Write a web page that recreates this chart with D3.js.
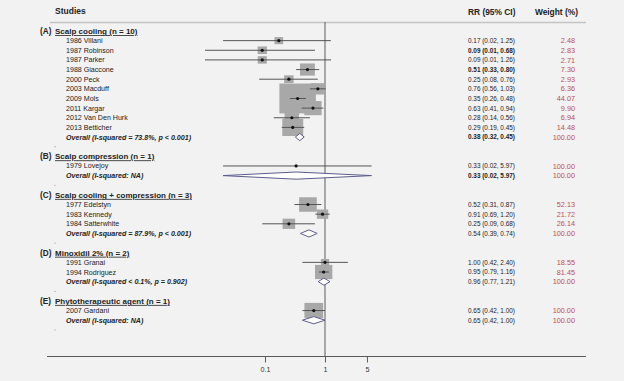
<!DOCTYPE html>
<html>
<head>
<meta charset="utf-8">
<script src="https://cdn.jsdelivr.net/npm/d3@7"></script>
<style>
  html, body { margin: 0; padding: 0; background: #f2f2f2; }
  svg { display: block; font-family: Arial, "Liberation Sans", sans-serif; }
</style>
</head>
<body>
<div id="chart"></div>
<script>
// subgroups
const groupLabels = ["(A)", "(B)", "(C)", "(D)", "(E)"];
const groupTitles = [
  "Scalp cooling (n = 10)",
  "Scalp compression (n = 1)",
  "Scalp cooling + compression (n = 3)",
  "Minoxidil 2% (n = 2)",
  "Phytotherapeutic agent (n = 1)"
];

// studies
const studyNames = [
  "1986 Villani", "1987 Robinson", "1987 Parker", "1988 Giaccone", "2000 Peck",
  "2003 Macduff", "2009 Mols", "2011 Kargar", "2012 Van Den Hurk", "2013 Betticher",
  "1979 Lovejoy",
  "1977 Edelstyn", "1983 Kennedy", "1984 Satterwhite",
  "1991 Granai", "1994 Rodriguez",
  "2007 Gardani"
];
const studyGroup = [0,0,0,0,0,0,0,0,0,0, 1, 2,2,2, 3,3, 4];
const studyRR =  [0.17, 0.09, 0.09, 0.51, 0.25, 0.76, 0.35, 0.63, 0.28, 0.29, 0.33, 0.52, 0.91, 0.25, 1.00, 0.95, 0.65];
const studyLo =  [0.02, 0.01, 0.01, 0.33, 0.08, 0.56, 0.26, 0.41, 0.14, 0.19, 0.02, 0.31, 0.69, 0.09, 0.42, 0.79, 0.42];
const studyHi =  [1.25, 0.68, 1.26, 0.80, 0.76, 1.03, 0.48, 0.94, 0.56, 0.45, 5.97, 0.87, 1.20, 0.68, 2.40, 1.16, 1.00];
const studyWeight = [2.48, 2.83, 2.71, 7.30, 2.93, 6.36, 44.07, 9.90, 6.94, 14.48, 100.00, 52.13, 21.72, 26.14, 18.55, 81.45, 100.00];
// estimated weight in the pooled analysis (drives box area)
const studyBoxWeight = [75, 86, 82, 221, 89, 192, 1333, 299, 210, 438, 0, 313, 130, 157, 69, 301, 350];
const studyBold = [false, true, false, true, false, false, false, false, false, false, false, false, false, false, false, false, false];

// pooled estimates per subgroup
const overallRR = [0.38, 0.33, 0.54, 0.96, 0.65];
const overallLo = [0.32, 0.02, 0.39, 0.77, 0.42];
const overallHi = [0.45, 5.97, 0.74, 1.21, 1.00];
const overallText = [
  "Overall (I-squared = 73.8%, p < 0.001)",
  "Overall (I-squared: NA)",
  "Overall (I-squared = 87.9%, p < 0.001)",
  "Overall (I-squared < 0.1%, p = 0.902)",
  "Overall (I-squared: NA)"
];
const overallBold = [true, true, false, false, false];

// axis
const tickValues = [0.1, 1, 5];

const width = 624, height = 381;
const fmt = d3.format(".2f");

// build rows: header, studies, overall, blank
const rows = [];
groupLabels.forEach((g, gi) => {
  rows.push({type: "header", g: gi});
  studyNames.forEach((n, si) => { if (studyGroup[si] === gi) rows.push({type: "study", i: si}); });
  rows.push({type: "overall", g: gi});
  rows.push({type: "blank", g: gi});
});
rows.forEach((r, i) => r.row = i);

const svg = d3.select("#chart").append("svg")
  .attr("width", width)
  .attr("height", height)
  .attr("viewBox", [0, 0, width, height]);

svg.append("rect").attr("width", width).attr("height", height).attr("fill", "#f2f2f2");

const y = d3.scaleLinear().domain([0, rows.length - 1]).range([31, 31 + (rows.length - 1) * 9.64]);
const x = d3.scaleLog().domain([0.1, 1]).range([265, 325]);
const box = d3.scaleSqrt().domain([0, d3.max(studyBoxWeight)]).range([0, 36.5]);

const axisY = 356.5;
const lineCol = "#5a5a5a";
const textCol = "#222";

// column headers
svg.append("text").attr("x", 55).attr("y", 14).attr("font-size", 8.5).attr("font-weight", "bold")
  .attr("fill", textCol).text("Studies");
svg.append("text").attr("x", 468).attr("y", 15).attr("font-size", 8.4).attr("font-weight", "bold")
  .attr("fill", textCol).text("RR (95% CI)");
svg.append("text").attr("x", 578).attr("y", 15).attr("font-size", 8.4).attr("font-weight", "bold")
  .attr("text-anchor", "end").attr("fill", textCol).text("Weight (%)");

svg.append("line").attr("x1", 50).attr("x2", 586).attr("y1", 22.5).attr("y2", 22.5)
  .attr("stroke", "#c4c4c4").attr("stroke-width", 1.5);

// null line
svg.append("line").attr("x1", x(1)).attr("x2", x(1)).attr("y1", 22).attr("y2", axisY)
  .attr("stroke", lineCol).attr("stroke-width", 1);

// x axis
svg.append("line").attr("x1", 47).attr("x2", 586).attr("y1", axisY).attr("y2", axisY)
  .attr("stroke", lineCol).attr("stroke-width", 1);
const axis = svg.append("g").attr("transform", `translate(0,${axisY})`)
  .call(d3.axisBottom(x).tickValues(tickValues).tickFormat(d => String(d)).tickSize(6).tickPadding(4));
axis.select(".domain").remove();
axis.selectAll(".tick line").attr("stroke", lineCol);
axis.selectAll(".tick text").attr("font-size", 7.2).attr("fill", "#333")
  .attr("font-family", "Arial, 'Liberation Sans', sans-serif");

// rows
rows.forEach(r => {
  const cy = y(r.row);
  if (r.type === "header") {
    svg.append("text").attr("x", 40).attr("y", cy + 3).attr("font-size", 8.2).attr("font-weight", "bold")
      .attr("fill", textCol).text(groupLabels[r.g]);
    svg.append("text").attr("x", 55).attr("y", cy + 3).attr("font-size", 8).attr("font-weight", "bold")
      .attr("fill", textCol).attr("text-decoration", "underline").text(groupTitles[r.g]);
  } else if (r.type === "study") {
    const i = r.i;
    svg.append("text").attr("x", 66).attr("y", cy + 2.5).attr("font-size", 7.1)
      .attr("fill", textCol).text(studyNames[i]);
    const w = box(studyBoxWeight[i]);
    if (w > 0) {
      svg.append("rect").attr("x", x(studyRR[i]) - w / 2).attr("y", cy - w * 0.41)
        .attr("width", w).attr("height", w * 0.82).attr("fill", "#a8a8a8");
    }
    svg.append("text").attr("x", 468).attr("y", cy + 2.4).attr("font-size", 6.4)
      .attr("font-weight", studyBold[i] ? "bold" : "normal").attr("fill", textCol)
      .text(`${fmt(studyRR[i])} (${fmt(studyLo[i])}, ${fmt(studyHi[i])})`);
    svg.append("text").attr("x", 575).attr("y", cy + 2.6).attr("font-size", 7.3)
      .attr("text-anchor", "end").attr("fill", "#c0504d").text(fmt(studyWeight[i]));
  } else if (r.type === "overall") {
    svg.append("text").attr("x", 66).attr("y", cy + 2.5).attr("font-size", 7.1)
      .attr("font-weight", "bold").attr("font-style", "italic").attr("fill", textCol)
      .text(overallText[r.g]);
    svg.append("text").attr("x", 468).attr("y", cy + 2.4).attr("font-size", 6.4)
      .attr("font-weight", overallBold[r.g] ? "bold" : "normal").attr("fill", textCol)
      .text(`${fmt(overallRR[r.g])} (${fmt(overallLo[r.g])}, ${fmt(overallHi[r.g])})`);
    svg.append("text").attr("x", 575).attr("y", cy + 2.6).attr("font-size", 7.3)
      .attr("text-anchor", "end").attr("fill", "#c0504d").text("100.00");
  } else {
    svg.append("circle").attr("cx", 55).attr("cy", cy).attr("r", 0.6).attr("fill", "#999");
  }
});

// CI lines and points drawn on top of the boxes
rows.filter(r => r.type === "study").forEach(r => {
  const i = r.i, cy = y(r.row);
  svg.append("line").attr("x1", x(studyLo[i])).attr("x2", x(studyHi[i])).attr("y1", cy).attr("y2", cy)
    .attr("stroke", "#555").attr("stroke-width", 1);
  svg.append("circle").attr("cx", x(studyRR[i])).attr("cy", cy).attr("r", 1.6).attr("fill", "#111");
});

// pooled diamonds
rows.filter(r => r.type === "overall").forEach(r => {
  const g = r.g, cy = y(r.row), h = 3.6;
  const pts = [[x(overallLo[g]), cy], [x(overallRR[g]), cy - h], [x(overallHi[g]), cy], [x(overallRR[g]), cy + h]];
  svg.append("path").attr("d", d3.line()(pts) + "Z")
    .attr("fill", "#ffffff").attr("stroke", "#5c5c8c").attr("stroke-width", 1);
});
</script>
</body>
</html>
